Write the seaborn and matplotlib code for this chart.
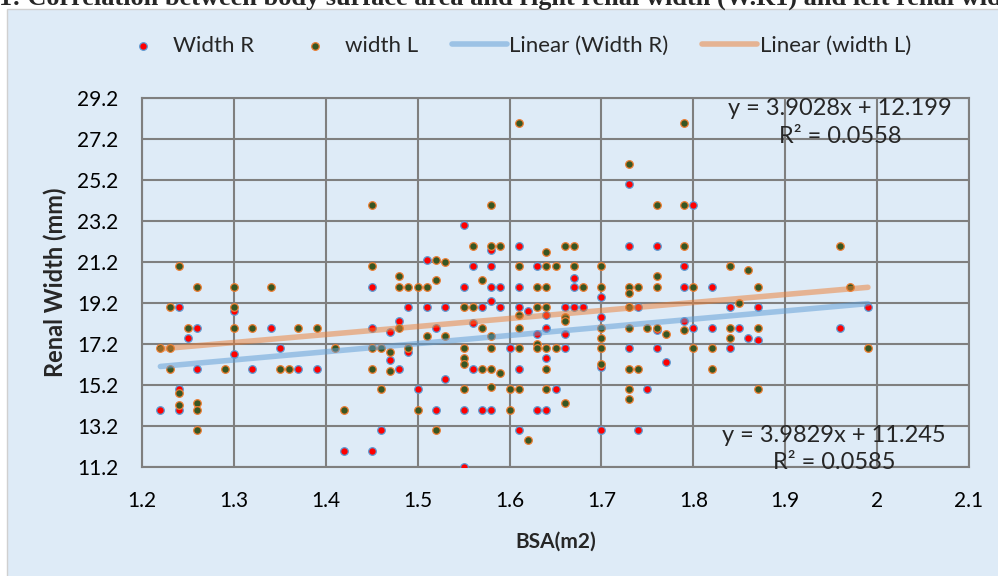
import numpy as np
import pandas as pd
import matplotlib
matplotlib.use("Agg")
import matplotlib.pyplot as plt
from matplotlib.patches import Rectangle
import seaborn as sns

# Right kidney width vs BSA
bsa_r = [1.51, 1.73, 1.80, 1.55, 1.58, 1.61, 1.73, 1.76, 1.56, 1.58,
         1.63, 1.79, 1.67, 1.45, 1.24, 1.30, 1.49, 1.51, 1.26, 1.34,
         1.45, 1.48, 1.47, 1.25, 1.35, 1.47, 1.49, 1.30, 1.26, 1.32,
         1.37, 1.39, 1.48, 1.24, 1.50, 1.22, 1.24, 1.46, 1.42, 1.45,
         1.55, 1.58, 1.59, 1.61, 1.67, 1.79, 1.82, 1.70, 1.53, 1.57,
         1.58, 1.59, 1.61, 1.64, 1.66, 1.67, 1.68, 1.62, 1.74, 1.70,
         1.52, 1.56, 1.64, 1.76, 1.79, 1.80, 1.82, 1.63, 1.66, 1.60,
         1.66, 1.73, 1.76, 1.84, 1.64, 1.77, 1.70, 1.56, 1.61, 1.53,
         1.65, 1.75, 1.52, 1.55, 1.57, 1.58, 1.63, 1.64, 1.61, 1.70,
         1.74, 1.55, 1.84, 1.87, 1.99, 1.85, 1.96, 1.86, 1.87]
width_r = [21.3, 25, 24, 23, 21.8, 22, 22, 22, 21, 21,
           21, 21, 20.4, 20, 19, 18.8, 19, 19, 18, 18,
           18, 18.3, 17.8, 17.5, 17, 16.4, 16.8, 16.7, 16, 16,
           16, 16, 16, 15, 15, 14, 14, 13, 12, 12,
           20, 20, 20, 20, 20, 20, 20, 19.5, 19, 19,
           19.3, 19, 19, 18.6, 19, 19, 19, 18.8, 19, 18.5,
           18, 18.2, 18, 17.9, 18.3, 18, 18, 17.7, 17.7, 17,
           17, 17, 17, 17, 16.5, 16.3, 16.1, 16, 16, 15.5,
           15, 15, 14, 14, 14, 14, 14, 14, 13, 13,
           13, 11.2, 19, 19, 19, 18, 18, 17.5, 17.4]

# Left kidney width vs BSA
bsa_l = [1.24, 1.45, 1.45, 1.48, 1.61, 1.79, 1.73, 1.58, 1.76, 1.79,
         1.56, 1.58, 1.59, 1.64, 1.66, 1.67, 1.79, 1.52, 1.53, 1.61,
         1.64, 1.65, 1.67, 1.70, 1.84, 1.76, 1.96, 1.86, 1.26, 1.30,
         1.34, 1.48, 1.49, 1.50, 1.51, 1.23, 1.30, 1.25, 1.30, 1.32,
         1.37, 1.39, 1.48, 1.51, 1.22, 1.23, 1.41, 1.45, 1.46, 1.47,
         1.49, 1.23, 1.29, 1.35, 1.36, 1.45, 1.47, 1.24, 1.46, 1.24,
         1.26, 1.26, 1.42, 1.50, 1.26, 1.52, 1.57, 1.63, 1.64, 1.68,
         1.70, 1.73, 1.73, 1.74, 1.76, 1.80, 1.55, 1.56, 1.63, 1.64,
         1.73, 1.61, 1.66, 1.66, 1.57, 1.61, 1.70, 1.73, 1.75, 1.76,
         1.77, 1.79, 1.84, 1.53, 1.58, 1.70, 1.84, 1.55, 1.58, 1.61,
         1.63, 1.63, 1.64, 1.65, 1.70, 1.80, 1.82, 1.55, 1.55, 1.70,
         1.57, 1.58, 1.59, 1.64, 1.73, 1.74, 1.82, 1.55, 1.58, 1.60,
         1.61, 1.64, 1.73, 1.73, 1.66, 1.60, 1.52, 1.62, 1.87, 1.97,
         1.85, 1.87, 1.99, 1.87]
width_l = [21, 24, 21, 20.5, 28, 28, 26, 24, 24, 24,
           22, 22, 22, 21.7, 22, 22, 22, 21.3, 21.2, 21,
           21, 21, 21, 21, 21, 20.5, 22, 20.8, 20, 20,
           20, 20, 20, 20, 20, 19, 19, 18, 18, 18,
           18, 18, 18, 17.6, 17, 17, 17, 17, 17, 16.8,
           17, 16, 16, 16, 16, 16, 15.9, 14.8, 15, 14.2,
           14.3, 14, 14, 14, 13, 20.3, 20.3, 20, 20, 20,
           20, 20, 19.7, 20, 20, 20, 19, 19, 19, 19,
           19, 18.6, 18.5, 18.3, 18, 18, 18, 18, 18, 18,
           17.7, 17.9, 18, 17.6, 17.6, 17.5, 17.5, 17, 17, 17,
           17.2, 17, 17, 17, 17, 17, 17, 16.5, 16.2, 16.2,
           16, 16, 15.8, 16, 16, 16, 16, 15, 15.1, 15,
           15, 15, 15, 14.5, 14.3, 14, 13, 12.5, 20, 20,
           19.2, 18, 17, 15]

# Excel trendline coefficients shown on the chart
slope_r, icpt_r, r2_r = 3.9829, 11.245, 0.0585
slope_l, icpt_l, r2_l = 3.9028, 12.199, 0.0558

x_ticks = [1.2, 1.3, 1.4, 1.5, 1.6, 1.7, 1.8, 1.9, 2.0, 2.1]
x_tick_labels = ["1.2", "1.3", "1.4", "1.5", "1.6", "1.7", "1.8", "1.9", "2", "2.1"]
y_ticks = [11.2, 13.2, 15.2, 17.2, 19.2, 21.2, 23.2, 25.2, 27.2, 29.2]

BG = "#DEEBF7"
GRID = "#7F7F7F"
BLUE = "#5B9BD5"
ORANGE = "#ED7D31"


def main():
    sns.set_theme(style="white")
    plt.rcParams["font.family"] = ["Lato", "DejaVu Sans"]

    df_r = pd.DataFrame({"bsa": bsa_r, "width": width_r})
    df_l = pd.DataFrame({"bsa": bsa_l, "width": width_l})

    xr = np.array([min(bsa_r), max(bsa_r)])
    xl = np.array([min(bsa_l), max(bsa_l)])
    trend_r = pd.DataFrame({"bsa": xr, "width": slope_r * xr + icpt_r})
    trend_l = pd.DataFrame({"bsa": xl, "width": slope_l * xl + icpt_l})

    fig = plt.figure(figsize=(9.98, 5.76), dpi=100)
    fig.patch.set_facecolor("white")
    fig.patches.append(Rectangle((7 / 998, -0.1), 1.1, 1.1 - 9 / 576,
                                 transform=fig.transFigure, facecolor=BG,
                                 edgecolor="#D0D0D0", lw=1, zorder=-10))

    ax = fig.add_axes([142 / 998, 1 - 467 / 576, 827 / 998, 369 / 576])
    ax.set_zorder(2)
    ax.set_facecolor("none")

    sns.scatterplot(data=df_r, x="bsa", y="width", ax=ax, color="#FF0000",
                    edgecolor=BLUE, linewidth=0.9, s=30, label="Width R", zorder=3)
    sns.scatterplot(data=df_l, x="bsa", y="width", ax=ax, color="#375623",
                    edgecolor=ORANGE, linewidth=0.9, s=30, label="width L", zorder=4)
    sns.lineplot(data=trend_r, x="bsa", y="width", ax=ax, color=BLUE, alpha=0.5,
                 lw=4, label="Linear (Width R)", zorder=5, solid_capstyle="round")
    sns.lineplot(data=trend_l, x="bsa", y="width", ax=ax, color=ORANGE, alpha=0.5,
                 lw=4, label="Linear (width L)", zorder=5, solid_capstyle="round")

    ax.set_xlim(1.2, 2.1)
    ax.set_ylim(11.2, 29.2)
    ax.set_xticks(x_ticks)
    ax.set_xticklabels(x_tick_labels)
    ax.set_yticks(y_ticks)
    ax.set_yticklabels([f"{v:.1f}" for v in y_ticks])
    ax.tick_params(axis="both", length=0, labelsize=15, colors="#000000")
    ax.tick_params(axis="y", pad=17)
    ax.tick_params(axis="x", pad=17)
    ax.grid(True, color=GRID, lw=1.5)
    ax.set_axisbelow(True)
    for sp in ax.spines.values():
        sp.set_visible(True)
        sp.set_color(GRID)
        sp.set_linewidth(1.5)

    ax.set_xlabel("BSA(m2)", fontsize=15, fontweight="bold", labelpad=15)
    ax.set_ylabel("Renal Width (mm)", fontsize=17, fontweight="bold", labelpad=7)

    # trendline equations
    ax.text(1.960, 28.0, f"y = {slope_l}x + {icpt_l}\nR² = {r2_l}", fontsize=17,
            ha="center", va="center", linespacing=1.4, zorder=6)
    ax.text(1.953, 12.08, f"y = {slope_r}x + {icpt_r}\nR² = {r2_r}", fontsize=17,
            ha="center", va="center", linespacing=1.4, zorder=6)

    handles, labels = ax.get_legend_handles_labels()
    ax.get_legend().remove()
    fig.legend(handles, labels, loc="center", bbox_to_anchor=(513 / 998, 1 - 46 / 576),
               ncol=4, frameon=False, fontsize=16, handlelength=2.5,
               handletextpad=0.1, columnspacing=1.5)

    fig.text(-0.001, 1 - 5 / 576,
             "1: Correlation between body surface area and right renal width (W.R1) and left renal width (W.L1)",
             fontfamily="Liberation Serif", fontweight="bold", fontsize=18.9,
             ha="left", va="baseline")

    fig.savefig("out.png", dpi=100, facecolor=fig.get_facecolor())


if __name__ == "__main__":
    main()
